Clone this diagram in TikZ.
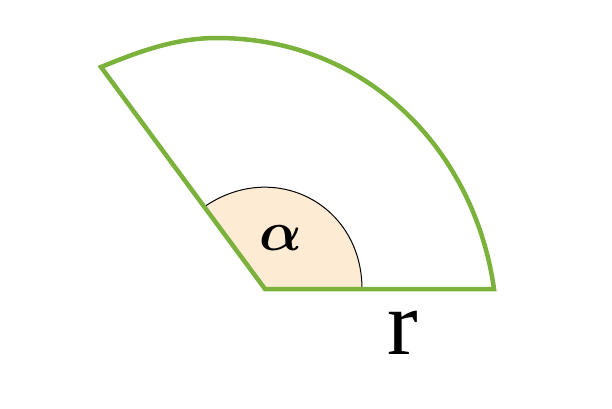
\documentclass[tikz,border=0pt]{standalone}
\usepackage{fontspec}
\setmainfont{Liberation Serif}
\definecolor{sectorgreen}{RGB}{122,178,60}
\definecolor{anglefill}{RGB}{253,235,212}
\begin{document}
\begin{tikzpicture}[x=1pt, y=-1pt]

\useasboundingbox (0,0) rectangle (612,408);
\coordinate (O) at (265,289);
\coordinate (A) at (101,67);
\coordinate (T) at (217,38);
\coordinate (B) at (494,289);
\coordinate (S) at (204,207);
\coordinate (E) at (362,289);

\fill [anglefill] (O) -- (S) .. controls (273.7,158.5) and (362,204) .. (E) -- cycle;
\draw [line width=1pt] (S) .. controls (273.7,158.5) and (362,204) .. (E);

\draw [sectorgreen, line width=4.5pt, line join=miter] (O) -- (A) .. controls (142.7,50) and (177,38) .. (T) .. controls (367,38) and (474.5,150.4) .. (B) -- cycle;

\node (alpha) at (281,238) {\scalebox{5.6}{\boldmath$\alpha$}};
\node (r) at (403,333) {\fontsize{92}{92}\selectfont r};

\end{tikzpicture}
\end{document}
